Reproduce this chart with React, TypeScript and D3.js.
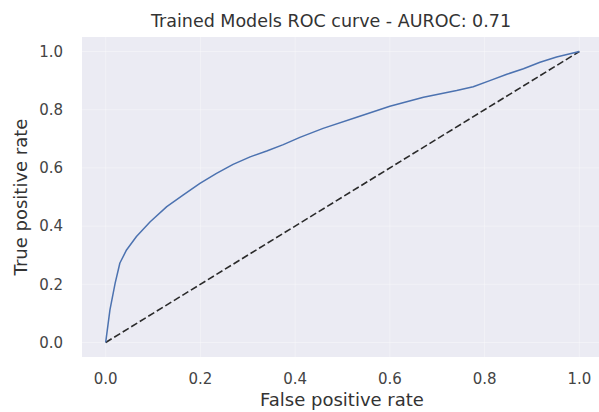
import React from "react";
import * as d3 from "d3";

const fpr = [0, 0.009, 0.02, 0.03, 0.044, 0.065, 0.094, 0.129, 0.164, 0.199, 0.234, 0.269, 0.305, 0.34, 0.375, 0.41, 0.459, 0.53, 0.6, 0.671, 0.741, 0.776, 0.811, 0.847, 0.882, 0.917, 0.952, 1.0];
const tpr = [0, 0.112, 0.204, 0.273, 0.318, 0.364, 0.415, 0.467, 0.507, 0.547, 0.581, 0.612, 0.638, 0.658, 0.68, 0.705, 0.736, 0.774, 0.812, 0.843, 0.866, 0.879, 0.9, 0.922, 0.941, 0.963, 0.981, 1.0];
const diagonal = [0, 1];
const ticks = [0, 0.2, 0.4, 0.6, 0.8, 1.0];
const title = "Trained Models ROC curve - AUROC: 0.71";
const xLabel = "False positive rate";
const yLabel = "True positive rate";

const W = 599;
const H = 412;
const left = 82;
const right = 603;
const top = 37;
const bottom = 357;

export default function App() {
  const x = d3.scaleLinear().domain([-0.05, 1.05]).range([left, right]);
  const y = d3.scaleLinear().domain([-0.05, 1.05]).range([bottom, top]);
  const pts: [number, number][] = fpr.map((f, i) => [f, tpr[i]]);
  const line = d3
    .line<[number, number]>()
    .x((d) => x(d[0]))
    .y((d) => y(d[1]));
  const diag: [number, number][] = diagonal.map((d) => [d, d]);
  const font = "DejaVu Sans, sans-serif";
  const textColor = "#444";
  return (
    <svg
      width={W}
      height={H}
      style={{ position: "fixed", left: 0, top: 0, background: "#fff" }}
      fontFamily={font}
    >
      <defs>
        <clipPath id="plot">
          <rect x={left} y={top} width={right - left} height={bottom - top} />
        </clipPath>
      </defs>
      <rect x={left} y={top} width={right - left} height={bottom - top} fill="#EBEBF3" />
      <g clipPath="url(#plot)">
        {ticks.map((t) => (
          <line key={"gx" + t} x1={x(t)} x2={x(t)} y1={top} y2={bottom} stroke="#fff" strokeWidth={1} opacity={0.35} />
        ))}
        {ticks.map((t) => (
          <line key={"gy" + t} x1={left} x2={right} y1={y(t)} y2={y(t)} stroke="#fff" strokeWidth={1} opacity={0.35} />
        ))}
        <path d={line(diag) || ""} fill="none" stroke="#2a2a2a" strokeWidth={1.6} strokeDasharray="7 3" />
        <path d={line(pts) || ""} fill="none" stroke="#4c72b0" strokeWidth={1.5} strokeLinejoin="round" />
      </g>
      {ticks.map((t) => (
        <text key={"tx" + t} x={x(t)} y={384} textAnchor="middle" fontSize={15} fill={textColor}>
          {t.toFixed(1)}
        </text>
      ))}
      {ticks.map((t) => (
        <text key={"ty" + t} x={63} y={y(t)} dy="0.36em" textAnchor="end" fontSize={15} fill={textColor}>
          {t.toFixed(1)}
        </text>
      ))}
      <text x={(left + 579) / 2 + 0.5} y={27} textAnchor="middle" fontSize={17.5} fill="#333">
        {title}
      </text>
      <text x={342} y={406} textAnchor="middle" fontSize={18} fill="#333">
        {xLabel}
      </text>
      <text
        transform={`translate(27, ${(top + bottom) / 2}) rotate(-90)`}
        textAnchor="middle"
        fontSize={18}
        fill="#333"
      >
        {yLabel}
      </text>
    </svg>
  );
}
